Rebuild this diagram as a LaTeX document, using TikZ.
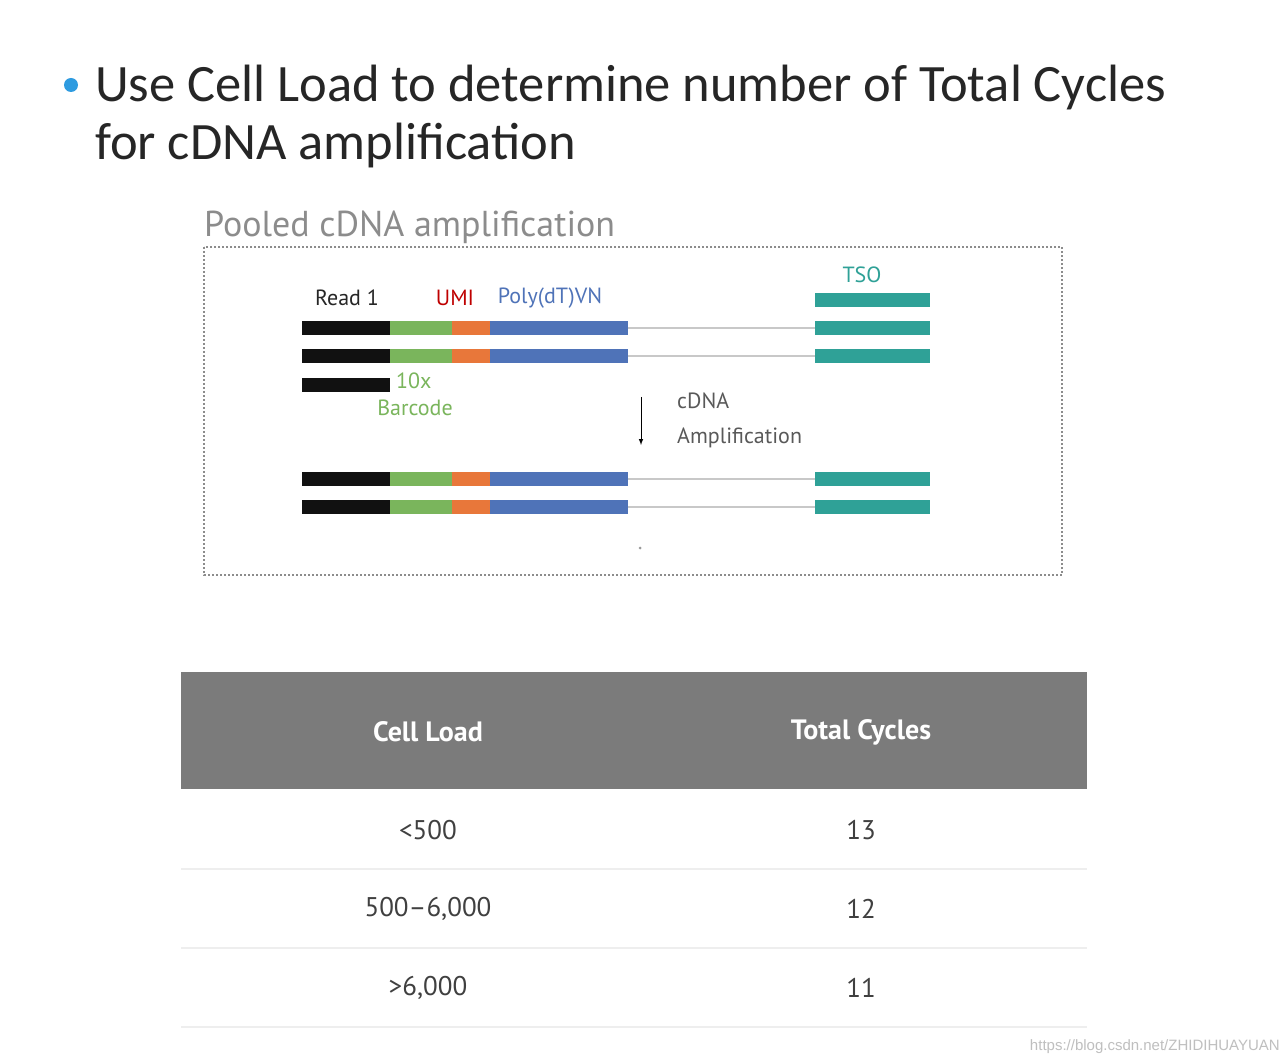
\documentclass[tikz,border=0pt]{standalone}
\usepackage{fontspec}
\setmainfont{Carlito}
\setsansfont{Liberation Sans}
\newfontfamily\din{PT Sans}
\definecolor{cblack}{HTML}{111111}
\definecolor{cgreen}{HTML}{7AB55C}
\definecolor{corange}{HTML}{E8773A}
\definecolor{cblue}{HTML}{4F73B8}
\definecolor{cteal}{HTML}{2FA197}
\definecolor{cgray}{HTML}{C8C8C8}
\definecolor{thead}{HTML}{7B7B7B}
\definecolor{tline}{HTML}{EEEEEE}
\definecolor{bullet}{HTML}{2E9BE0}
\begin{document}
\begin{tikzpicture}[x=1pt,y=-1pt,
  seg/.style={line width=14pt},
  lbl/.style={font=\din\fontsize{22}{24}\selectfont, inner sep=0pt},
  cell/.style={font=\din\fontsize{27}{30}\selectfont, text=black!75, inner sep=0pt},
  hcell/.style={font=\din\bfseries\fontsize{28}{30}\selectfont, text=white, inner sep=0pt}]
\useasboundingbox[fill=white] (0,0) rectangle (1288,1064);
\fill[bullet] (71,85) circle (7);
\node[anchor=base west, inner sep=0pt, font=\fontsize{52.5}{56}\selectfont, text=black!85] (t1) at (95,102) {Use Cell Load to determine number of Total Cycles};
\node[anchor=base west, inner sep=0pt, font=\fontsize{52.5}{56}\selectfont, text=black!85] (t2) at (95,160) {for cDNA amplification};
\node[anchor=base west, inner sep=0pt, font=\din\fontsize{36}{38}\selectfont, text=black!45] (pool) at (204,237) {Pooled cDNA amplification};
\draw[black!45, dash pattern=on 2pt off 2pt, line width=1.5pt] (204,247) rectangle (1062,575);
% strands
\foreach \y in {328,356,479,507}{
  \draw[seg,cblack] (302,\y) -- (390,\y);
  \draw[seg,cgreen] (390,\y) -- (452,\y);
  \draw[seg,corange] (452,\y) -- (490,\y);
  \draw[seg,cblue] (490,\y) -- (628,\y);
  \draw[cgray, line width=1.5pt] (628,\y) -- (815,\y);
  \draw[seg,cteal] (815,\y) -- (930,\y);
}
\draw[seg,cblack] (302,385) -- (390,385);
\draw[seg,cteal] (815,300) -- (930,300);
\node[lbl, text=black!85] (r1) at (347,298) {Read 1};
\node[lbl, text=red!75!black] (umi) at (455,298) {UMI};
\node[lbl, text=cblue] (poly) at (550,298) {Poly(dT)VN};
\node[lbl, text=cteal] (tso) at (862,275) {TSO};
\node[lbl, text=cgreen, anchor=west] (b1) at (396,381) {10x};
\node[lbl, text=cgreen] (b2) at (415,408) {Barcode};
\coordinate (a1) at (641,397);
\coordinate (a2) at (641,445);
\draw[-latex, line width=1pt] (a1) -- (a2);
\node[lbl, text=black!65, anchor=west] (c1) at (677,401) {cDNA};
\node[lbl, text=black!65, anchor=west] (c2) at (677,438) {Amplification};
\fill[black!40] (640,548) circle (1.5);
% table
\fill[thead] (181,672) rectangle (1087,789);
\node[hcell] (h1) at (428,732) {Cell Load};
\node[hcell] (h2) at (861,732) {Total Cycles};
\foreach \y/\a/\b in {830/{<500}/13, 909/{500–6,000}/12, 988/{>6,000}/11}{
  \node[cell] at (428,\y) {\a};
  \node[cell] at (861,\y) {\b};
}
\foreach \y in {869,948,1027}{\draw[tline, line width=1.5pt] (181,\y) -- (1087,\y);}
\node[anchor=south east, inner sep=0pt, font=\sffamily\fontsize{15}{16}\selectfont, text=black!25] (wm) at (1280,1054) {https://blog.csdn.net/ZHIDIHUAYUAN};
\end{tikzpicture}
\end{document}
